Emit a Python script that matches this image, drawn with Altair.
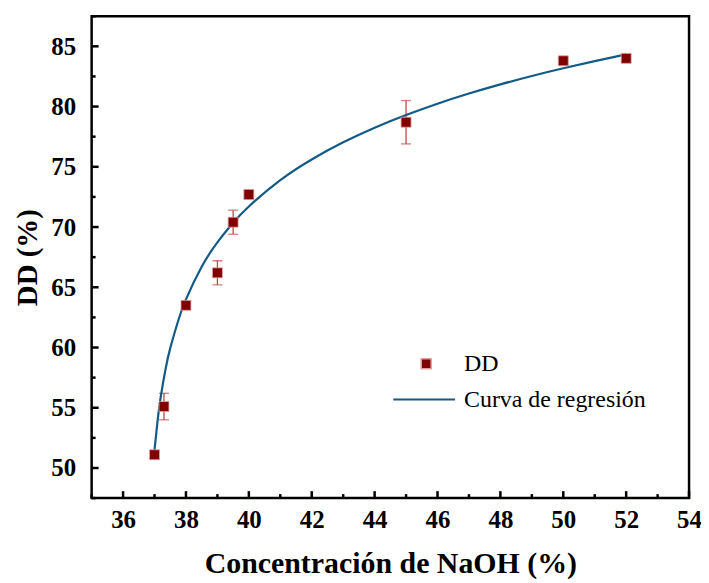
import altair as alt
import pandas as pd

# Measured data points (NaOH concentration %, DD %)
conc = [37.0, 37.3, 38.0, 39.0, 39.5, 40.0, 45.0, 50.0, 52.0]
dd = [51.1, 55.1, 63.5, 66.2, 70.4, 72.7, 78.7, 83.8, 84.0]
err = [0.3, 1.1, 0.3, 1.0, 1.0, 0.4, 1.8, 0.3, 0.3]

# Regression curve
curve_x = [37.0, 37.1, 37.2, 37.35, 37.5, 37.75, 38.0, 38.5, 39.0, 39.5, 40.0,
           41.0, 42.0, 43.0, 44.0, 45.0, 46.0, 47.0, 48.0, 49.0, 50.0, 51.0, 52.0]
curve_y = [51.5, 54.0, 55.95, 58.2, 59.95, 62.2, 64.0, 66.7, 68.73, 70.35, 71.71,
           73.89, 75.61, 77.03, 78.25, 79.3, 80.24, 81.08, 81.84, 82.54, 83.18, 83.77, 84.33]

x_major = [36, 38, 40, 42, 44, 46, 48, 50, 52, 54]
x_minor = [35, 37, 39, 41, 43, 45, 47, 49, 51, 53]
y_major = [50, 55, 60, 65, 70, 75, 80, 85]
y_minor = [47.5, 52.5, 57.5, 62.5, 67.5, 72.5, 77.5, 82.5, 87.5]

W, H = 600, 484
FONT = "Liberation Serif"
RED = "#800000"
BLUE = "#145a86"

pts = pd.DataFrame({"x": conc, "y": dd, "lo": [a - b for a, b in zip(dd, err)],
                    "hi": [a + b for a, b in zip(dd, err)], "s": ["DD"] * len(conc)})
cur = pd.DataFrame({"x": curve_x, "y": curve_y, "s": ["Curva de regresión"] * len(curve_x)})

xscale = alt.Scale(domain=[35, 54], nice=False, zero=False)
yscale = alt.Scale(domain=[47.5, 87.5], nice=False, zero=False)

xaxis = alt.Axis(values=x_major, title="Concentración de NaOH (%)", grid=False, domain=False,
                 ticks=False, labelFont=FONT, labelFontSize=25, labelFontWeight="bold",
                 labelColor="black", labelPadding=10, labelFlush=False, labelOverlap=False,
                 titleFont=FONT, titleFontSize=30, titleFontWeight="bold", titleColor="black",
                 titlePadding=16)
yaxis = alt.Axis(values=y_major, title="DD (%)", grid=False, domain=False, ticks=False,
                 labelFont=FONT, labelFontSize=25, labelFontWeight="bold", labelColor="black",
                 labelPadding=16, labelFlush=False, labelOverlap=False,
                 titleFont=FONT, titleFontSize=29, titleFontWeight="bold", titleColor="black",
                 titlePadding=8)

X = lambda f: alt.X(f, type="quantitative", scale=xscale, axis=xaxis)
Y = lambda f: alt.Y(f, type="quantitative", scale=yscale, axis=yaxis)

# tick marks drawn inside the frame
xmaj = alt.Chart(pd.DataFrame({"v": x_major})).mark_rule(color="black", strokeWidth=2.5).encode(
    x=X("v"), y=alt.value(H), y2=alt.value(H - 7))
xmin = alt.Chart(pd.DataFrame({"v": x_minor})).mark_rule(color="black", strokeWidth=2.5).encode(
    x=X("v"), y=alt.value(H), y2=alt.value(H - 4))
ymaj = alt.Chart(pd.DataFrame({"v": y_major})).mark_rule(color="black", strokeWidth=2.5).encode(
    y=Y("v"), x=alt.value(0), x2=alt.value(7))
ymin = alt.Chart(pd.DataFrame({"v": y_minor})).mark_rule(color="black", strokeWidth=2.5).encode(
    y=Y("v"), x=alt.value(0), x2=alt.value(4))

base = alt.Chart(pts)
ebar = base.mark_rule(color="#c04848", strokeWidth=1.3).encode(x=X("x"), y=Y("lo"), y2="hi")
cap_lo = base.mark_tick(color="#c04848", thickness=1.3, size=10, orient="horizontal").encode(x=X("x"), y=Y("lo"))
cap_hi = base.mark_tick(color="#c04848", thickness=1.3, size=10, orient="horizontal").encode(x=X("x"), y=Y("hi"))

line = alt.Chart(cur).mark_line(strokeWidth=2.2, interpolate="natural").encode(
    x=X("x"), y=Y("y"),
    stroke=alt.Stroke("s:N", scale=alt.Scale(domain=["Curva de regresión"], range=[BLUE]),
                      legend=alt.Legend(title=None, orient="none", legendX=302, legendY=353,
                                        symbolType="stroke", symbolSize=3844, symbolStrokeWidth=2,
                                        symbolStrokeColor=BLUE, labelLimit=400,
                                        labelFont=FONT, labelFontSize=24, labelColor="black",
                                        labelOffset=8, padding=0)))

points = base.mark_point(filled=True, shape="square", size=100, opacity=1,
                         stroke="#e0a0a0", strokeWidth=0.8).encode(
    x=X("x"), y=Y("y"),
    fill=alt.Fill("s:N", scale=alt.Scale(domain=["DD"], range=[RED]),
                  legend=alt.Legend(title=None, orient="none", legendX=324, legendY=337,
                                    symbolType="square", symbolSize=100, labelLimit=400,
                                    labelFont=FONT, labelFontSize=24, labelColor="black",
                                    labelOffset=26, padding=0)))

chart = alt.layer(xmaj, xmin, ymaj, ymin, ebar, cap_lo, cap_hi, line, points).properties(
    width=W, height=H,
    autosize=alt.AutoSizeParams(type="none"),
    padding={"left": 84, "top": 7, "right": 12, "bottom": 80},
).configure_view(stroke="black", strokeWidth=2.5).resolve_legend(fill="independent", stroke="independent")

chart.save("out.html", embed_options={"renderer": "svg", "actions": False})
